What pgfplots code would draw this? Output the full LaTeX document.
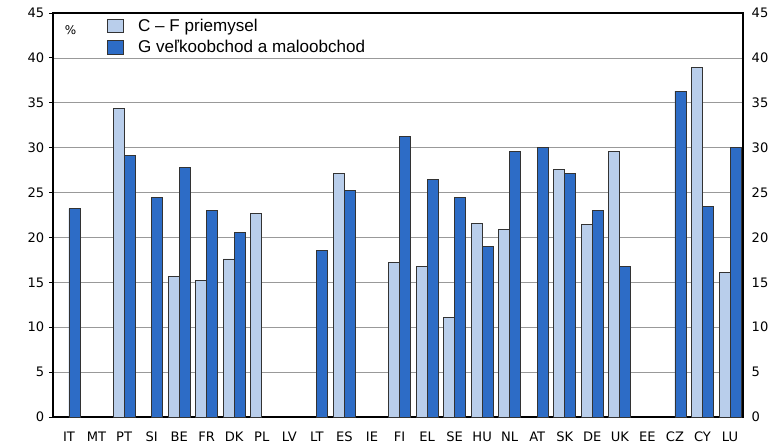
\documentclass[border=0pt]{standalone}
\usepackage{pgfplots}
\pgfplotsset{compat=1.18}
\usepackage{fontspec}
\setmainfont{DejaVu Sans}
\newfontfamily\legfont{Liberation Sans}
\definecolor{cflight}{HTML}{B9CEEB}
\definecolor{gdark}{HTML}{2D6CC6}

% C-F industry
\pgfplotstableread{
x y
2 34.4
4 15.7
5 15.2
6 17.6
7 22.7
10 27.1
12 17.2
13 16.8
14 11.1
15 21.6
16 20.9
18 27.6
19 21.4
20 29.6
23 38.9
24 16.1
}\cfdata
% G wholesale and retail
\pgfplotstableread{
x y
0 23.2
2 29.1
3 24.5
4 27.8
5 23.0
6 20.5
9 18.5
10 25.2
12 31.3
13 26.5
14 24.5
15 19.0
16 29.6
17 30.0
18 27.1
19 23.0
20 16.8
22 36.3
23 23.4
24 30.0
}\gdata

\begin{document}
\begin{tikzpicture}
\pgfplotsset{
  common/.style={
    scale only axis, width=517.5pt, height=303pt,
    xmin=-0.58, xmax=24.47, ymin=0, ymax=45,
    ytick={0,5,...,45},
    tick label style={font=\fontsize{9.8}{11}\selectfont},
    /pgf/number format/assume math mode=true,
  }
}
\path[use as bounding box] (-39.75pt,-20.25pt) rectangle (540.75pt,312.75pt);
\begin{axis}[common,
  ybar=0pt, bar width=0.4,
  xtick={0,...,24},
  xticklabels={IT,MT,PT,SI,BE,FR,DK,PL,LV,LT,ES,IE,FI,EL,SE,HU,NL,AT,SK,DE,UK,EE,CZ,CY,LU},
  major x tick style={draw=none},
  xticklabel style={anchor=north, text height=7.6pt, text depth=0pt, yshift=-4.5pt},
  ytick style={black, line width=0.6pt},
  tick align=outside, ytick pos=left, major tick length=3pt,
  ymajorgrids, grid style={gray!80, line width=0.5pt},
  axis line style={black, line width=0.8pt},
  legend style={draw=none, fill=none, at={(0.0725,0.999)}, anchor=north west,
    font=\legfont\fontsize{12.8}{14}\selectfont, row sep=0pt,
    nodes={inner sep=1.5pt, text height=9.8pt, text depth=3.2pt}},
  legend cell align=left,
  legend image code/.code={\draw[#1, draw=black!80, line width=0.6pt] (0pt,-4.2pt) rectangle (12pt,5.8pt);
    \path (21pt,0pt);},
]
\addplot[fill=cflight, draw=black!80, line width=0.7pt] table {\cfdata};
\addplot[fill=gdark, draw=black!80, line width=0.7pt] table {\gdata};
\legend{C – F priemysel, G veľkoobchod a maloobchod}
\node[anchor=center, font=\fontsize{9}{10}\selectfont] at (axis cs:0.06,43.1) {\%};
\end{axis}
\begin{axis}[common,
  axis x line=none, axis y line*=right,
  ytick style={draw=none},
  axis line style={black, line width=0.8pt},
  yticklabel style={xshift=3pt},
]
\addplot[draw=none] coordinates {(0,0)};
\end{axis}
\end{tikzpicture}
\end{document}
